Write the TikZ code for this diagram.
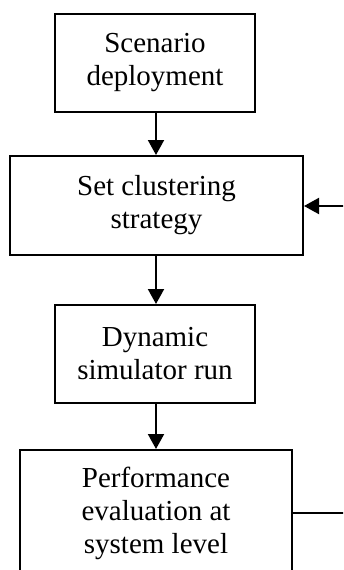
\documentclass[tikz,border=0pt]{standalone}
\usepackage{fontspec}
\setmainfont{Liberation Serif}
\usetikzlibrary{arrows.meta}
\begin{document}
\begin{tikzpicture}[x=1pt,y=-1pt,
  stepbox/.style={draw=black, line width=2pt, rectangle, inner sep=0pt, align=center,
    font=\fontsize{29}{33}\selectfont, text=black},
  conn/.style={line width=2pt, -{Triangle[width=16pt,length=15pt]}}]
\useasboundingbox (0,0) rectangle (343,570);
\clip (0,0) rectangle (343,570);
\node[stepbox, minimum width=200pt, minimum height=98pt] (a) at (155,63) {Scenario\\deployment};
\node[stepbox, minimum width=293pt, minimum height=99pt] (b) at (156.5,205.5) {Set clustering\\strategy};
\node[stepbox, minimum width=200pt, minimum height=98pt] (c) at (155,354) {Dynamic\\simulator run};
\node[stepbox, minimum width=272pt, minimum height=126pt] (d) at (156,513) {Performance\\evaluation at\\system level};
\coordinate (r1) at (360,513);
\coordinate (r2) at (360,206);
\draw[conn] (a.south -| 156,0) -- (b.north -| 156,0);
\draw[conn] (b.south -| 156,0) -- (c.north -| 156,0);
\draw[conn] (c.south -| 156,0) -- (d.north -| 156,0);
\draw[conn] (d.east) -- (r1) -- (r2) -- (b.east |- r2);
\end{tikzpicture}
\end{document}
